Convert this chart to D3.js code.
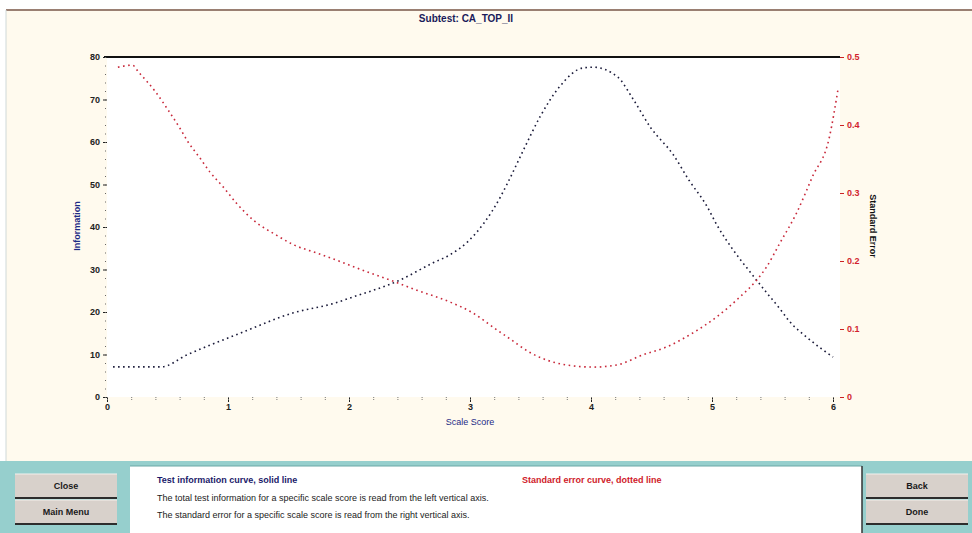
<!DOCTYPE html>
<html>
<head>
<meta charset="utf-8">
<script src="https://cdn.jsdelivr.net/npm/d3@7"></script>
<style>
  body { margin: 0; background: #ffffff; font-family: "Liberation Sans", Arial, sans-serif; }
  svg { display: block; }
</style>
</head>
<body>
<svg id="chart" width="972" height="533"></svg>
<script>
// scale score positions and curve readings
var infoScore = [0.05, 0.45, 0.66, 1.10, 1.54, 1.87, 2.03, 2.42, 2.69, 2.83, 2.98, 3.25, 3.31, 3.44, 3.58, 3.74, 3.93, 4.02, 4.22, 4.35, 4.49, 4.68, 4.81, 4.96, 5.04, 5.17, 5.31, 5.45, 5.56, 5.64, 5.79, 6.00];
var infoValue = [7.1, 7.1, 9.9, 15.0, 19.8, 22.0, 23.5, 27.5, 31.5, 33.4, 36.5, 47.0, 50.3, 58.0, 66.0, 73.0, 77.4, 77.6, 75.3, 70.0, 63.5, 57.0, 51.0, 44.8, 40.5, 34.8, 29.6, 24.6, 20.8, 17.8, 13.9, 9.4];

var seScore = [0.09, 0.21, 0.26, 0.40, 0.52, 0.60, 0.67, 0.77, 0.85, 0.96, 1.07, 1.21, 1.40, 1.54, 1.73, 1.93, 2.15, 2.34, 2.56, 2.83, 3.02, 3.22, 3.31, 3.50, 3.80, 4.02, 4.21, 4.43, 4.63, 4.84, 5.04, 5.23, 5.37, 5.45, 5.56, 5.70, 5.83, 5.97, 6.04];
var seValue = [0.485, 0.488, 0.478, 0.449, 0.418, 0.396, 0.375, 0.351, 0.331, 0.309, 0.285, 0.260, 0.238, 0.224, 0.212, 0.199, 0.184, 0.172, 0.157, 0.140, 0.124, 0.099, 0.088, 0.065, 0.047, 0.044, 0.047, 0.062, 0.074, 0.094, 0.118, 0.147, 0.172, 0.191, 0.226, 0.271, 0.324, 0.382, 0.451];

var xTicks = [0, 1, 2, 3, 4, 5, 6];
var infoTicks = [0, 10, 20, 30, 40, 50, 60, 70, 80];
var seTicks = [0, 0.1, 0.2, 0.3, 0.4, 0.5];
var seTickLabels = ['0', '0.1', '0.2', '0.3', '0.4', '0.5'];

var titleText = 'Subtest: CA_TOP_II';
var legendLines = [
    'The total test information for a specific scale score is read from the left vertical axis.',
    'The standard error for a specific scale score is read from the right vertical axis.'
];

var svg = d3.select('#chart');
var W = 972, H = 533;

var plot = { left: 107, right: 840, top: 57, bottom: 397 };

// window background
svg.append('rect').attr('x', 0).attr('y', 0).attr('width', W).attr('height', H).attr('fill', '#ffffff');
svg.append('rect').attr('x', 6).attr('y', 9).attr('width', W - 6).attr('height', 452)
    .attr('fill', '#fffaee');
svg.append('line').attr('x1', 6).attr('x2', W).attr('y1', 10).attr('y2', 10)
    .attr('stroke', '#9a7f72').attr('stroke-width', 2);
svg.append('line').attr('x1', 6).attr('x2', 6).attr('y1', 10).attr('y2', 461)
    .attr('stroke', '#cfd8d8').attr('stroke-width', 1);

// plot area
svg.append('rect').attr('x', plot.left).attr('y', plot.top)
    .attr('width', plot.right - plot.left).attr('height', plot.bottom - plot.top)
    .attr('fill', '#ffffff');

var x = d3.scaleLinear().domain([0, 6]).range([107, 833]);
var yInfo = d3.scaleLinear().domain([0, 80]).range([plot.bottom, plot.top]);
var ySe = d3.scaleLinear().domain([0, 0.5]).range([plot.bottom, plot.top]);

// title
svg.append('text').attr('x', 466).attr('y', 22).attr('text-anchor', 'middle')
    .attr('font-size', 10).attr('font-weight', 'bold').attr('fill', '#1a1a5a')
    .text(titleText);

// top frame line
svg.append('line').attr('x1', plot.left - 3).attr('x2', plot.right)
    .attr('y1', plot.top).attr('y2', plot.top)
    .attr('stroke', '#111111').attr('stroke-width', 2);

// left axis
var leftAxis = svg.append('g').attr('transform', 'translate(' + plot.left + ',0)')
    .call(d3.axisLeft(yInfo).tickValues(infoTicks).tickSize(4).tickFormat(d3.format('d')));
leftAxis.select('.domain').remove();
leftAxis.selectAll('line').attr('stroke', '#222');
leftAxis.selectAll('text').attr('font-size', 9).attr('font-weight', 'bold').attr('fill', '#222')
    .attr('font-family', '"Liberation Sans", Arial, sans-serif');

var leftMinor = svg.append('g').attr('transform', 'translate(' + (plot.left - 1) + ',0)')
    .call(d3.axisLeft(yInfo).ticks(32).tickSize(2).tickFormat(''));
leftMinor.select('.domain').remove();
leftMinor.selectAll('line').attr('stroke', '#666').attr('stroke-dasharray', '1,1');

// right axis
var rightAxis = svg.append('g').attr('transform', 'translate(' + plot.right + ',0)')
    .call(d3.axisRight(ySe).tickValues(seTicks).tickSize(4)
        .tickFormat(function (d, i) { return seTickLabels[i]; }));
rightAxis.select('.domain').remove();
rightAxis.selectAll('line').attr('stroke', '#cc2222');
rightAxis.selectAll('text').attr('font-size', 9).attr('font-weight', 'bold').attr('fill', '#d21f2f')
    .attr('font-family', '"Liberation Sans", Arial, sans-serif');

// bottom axis
var bottomAxis = svg.append('g').attr('transform', 'translate(0,' + plot.bottom + ')')
    .call(d3.axisBottom(x).tickValues(xTicks).tickSize(5).tickFormat(d3.format('d')));
bottomAxis.select('.domain').remove();
bottomAxis.selectAll('line').attr('stroke', '#222');
bottomAxis.selectAll('text').attr('font-size', 9).attr('font-weight', 'bold').attr('fill', '#222')
    .attr('dy', '0.5em').attr('font-family', '"Liberation Sans", Arial, sans-serif');

var bottomMinor = svg.append('g').attr('transform', 'translate(0,' + plot.bottom + ')')
    .call(d3.axisBottom(x).ticks(24).tickSize(3).tickFormat(''));
bottomMinor.select('.domain').remove();
bottomMinor.selectAll('line').attr('stroke', '#777').attr('stroke-dasharray', '1,1');

// axis titles
svg.append('text').attr('transform', 'translate(80,226) rotate(-90)')
    .attr('text-anchor', 'middle').attr('font-size', 9).attr('font-weight', 'bold')
    .attr('fill', '#1e2a86').text('Information');
svg.append('text').attr('transform', 'translate(870,226) rotate(90)')
    .attr('text-anchor', 'middle').attr('font-size', 9).attr('font-weight', 'bold')
    .attr('fill', '#111').text('Standard Error');
svg.append('text').attr('x', 470).attr('y', 425).attr('text-anchor', 'middle')
    .attr('font-size', 9).attr('fill', '#1e2a86').text('Scale Score');

// curves
var infoData = infoScore.map(function (s, i) { return { s: s, v: infoValue[i] }; });
var seData = seScore.map(function (s, i) { return { s: s, v: seValue[i] }; });

var infoLine = d3.line().curve(d3.curveMonotoneX)
    .x(function (d) { return x(d.s); })
    .y(function (d) { return yInfo(d.v); });
var seLine = d3.line().curve(d3.curveMonotoneX)
    .x(function (d) { return x(d.s); })
    .y(function (d) { return ySe(d.v); });

svg.append('path').datum(infoData).attr('d', infoLine)
    .attr('fill', 'none').attr('stroke', '#1b1b3a').attr('stroke-width', 1.6)
    .attr('stroke-dasharray', '1.6,3.4');
svg.append('path').datum(seData).attr('d', seLine)
    .attr('fill', 'none').attr('stroke', '#c8283a').attr('stroke-width', 1.6)
    .attr('stroke-dasharray', '1.6,3.6');

// bottom panel
var panel = svg.append('g').attr('class', 'panel');
panel.append('rect').attr('x', 0).attr('y', 461).attr('width', W).attr('height', 72)
    .attr('fill', '#96cfcd');
panel.append('rect').attr('x', 130).attr('y', 466).attr('width', 732).attr('height', 67)
    .attr('fill', '#ffffff');
panel.append('line').attr('x1', 130).attr('x2', 862).attr('y1', 466).attr('y2', 466)
    .attr('stroke', '#6aa7a5').attr('stroke-width', 1);
panel.append('line').attr('x1', 862).attr('x2', 862).attr('y1', 466).attr('y2', 533)
    .attr('stroke', '#333').attr('stroke-width', 1.5);

function button(bx, by, label) {
    var b = panel.append('g');
    b.append('rect').attr('x', bx).attr('y', by).attr('width', 102).attr('height', 24)
        .attr('fill', '#d8d1cb');
    b.append('line').attr('x1', bx).attr('x2', bx + 102).attr('y1', by + 24).attr('y2', by + 24)
        .attr('stroke', '#2d2d2d').attr('stroke-width', 2);
    b.append('line').attr('x1', bx).attr('x2', bx + 102).attr('y1', by).attr('y2', by)
        .attr('stroke', '#f4f0ec').attr('stroke-width', 1);
    b.append('text').attr('x', bx + 51).attr('y', by + 15).attr('text-anchor', 'middle')
        .attr('font-size', 9).attr('font-weight', 'bold').attr('fill', '#1a1a1a').text(label);
}
button(15, 474, 'Close');
button(15, 500, 'Main Menu');
button(866, 474, 'Back');
button(866, 500, 'Done');

panel.append('text').attr('x', 157).attr('y', 483).attr('font-size', 9).attr('font-weight', 'bold')
    .attr('fill', '#1a1a6a').text('Test information curve, solid line');
panel.append('text').attr('x', 522).attr('y', 483).attr('font-size', 9).attr('font-weight', 'bold')
    .attr('fill', '#d01a2a').text('Standard error curve, dotted line');
panel.selectAll('.note').data(legendLines).enter().append('text')
    .attr('class', 'note')
    .attr('x', 157)
    .attr('y', function (d, i) { return 501 + i * 17; })
    .attr('font-size', 9).attr('fill', '#222')
    .text(function (d) { return d; });
</script>
</body>
</html>
